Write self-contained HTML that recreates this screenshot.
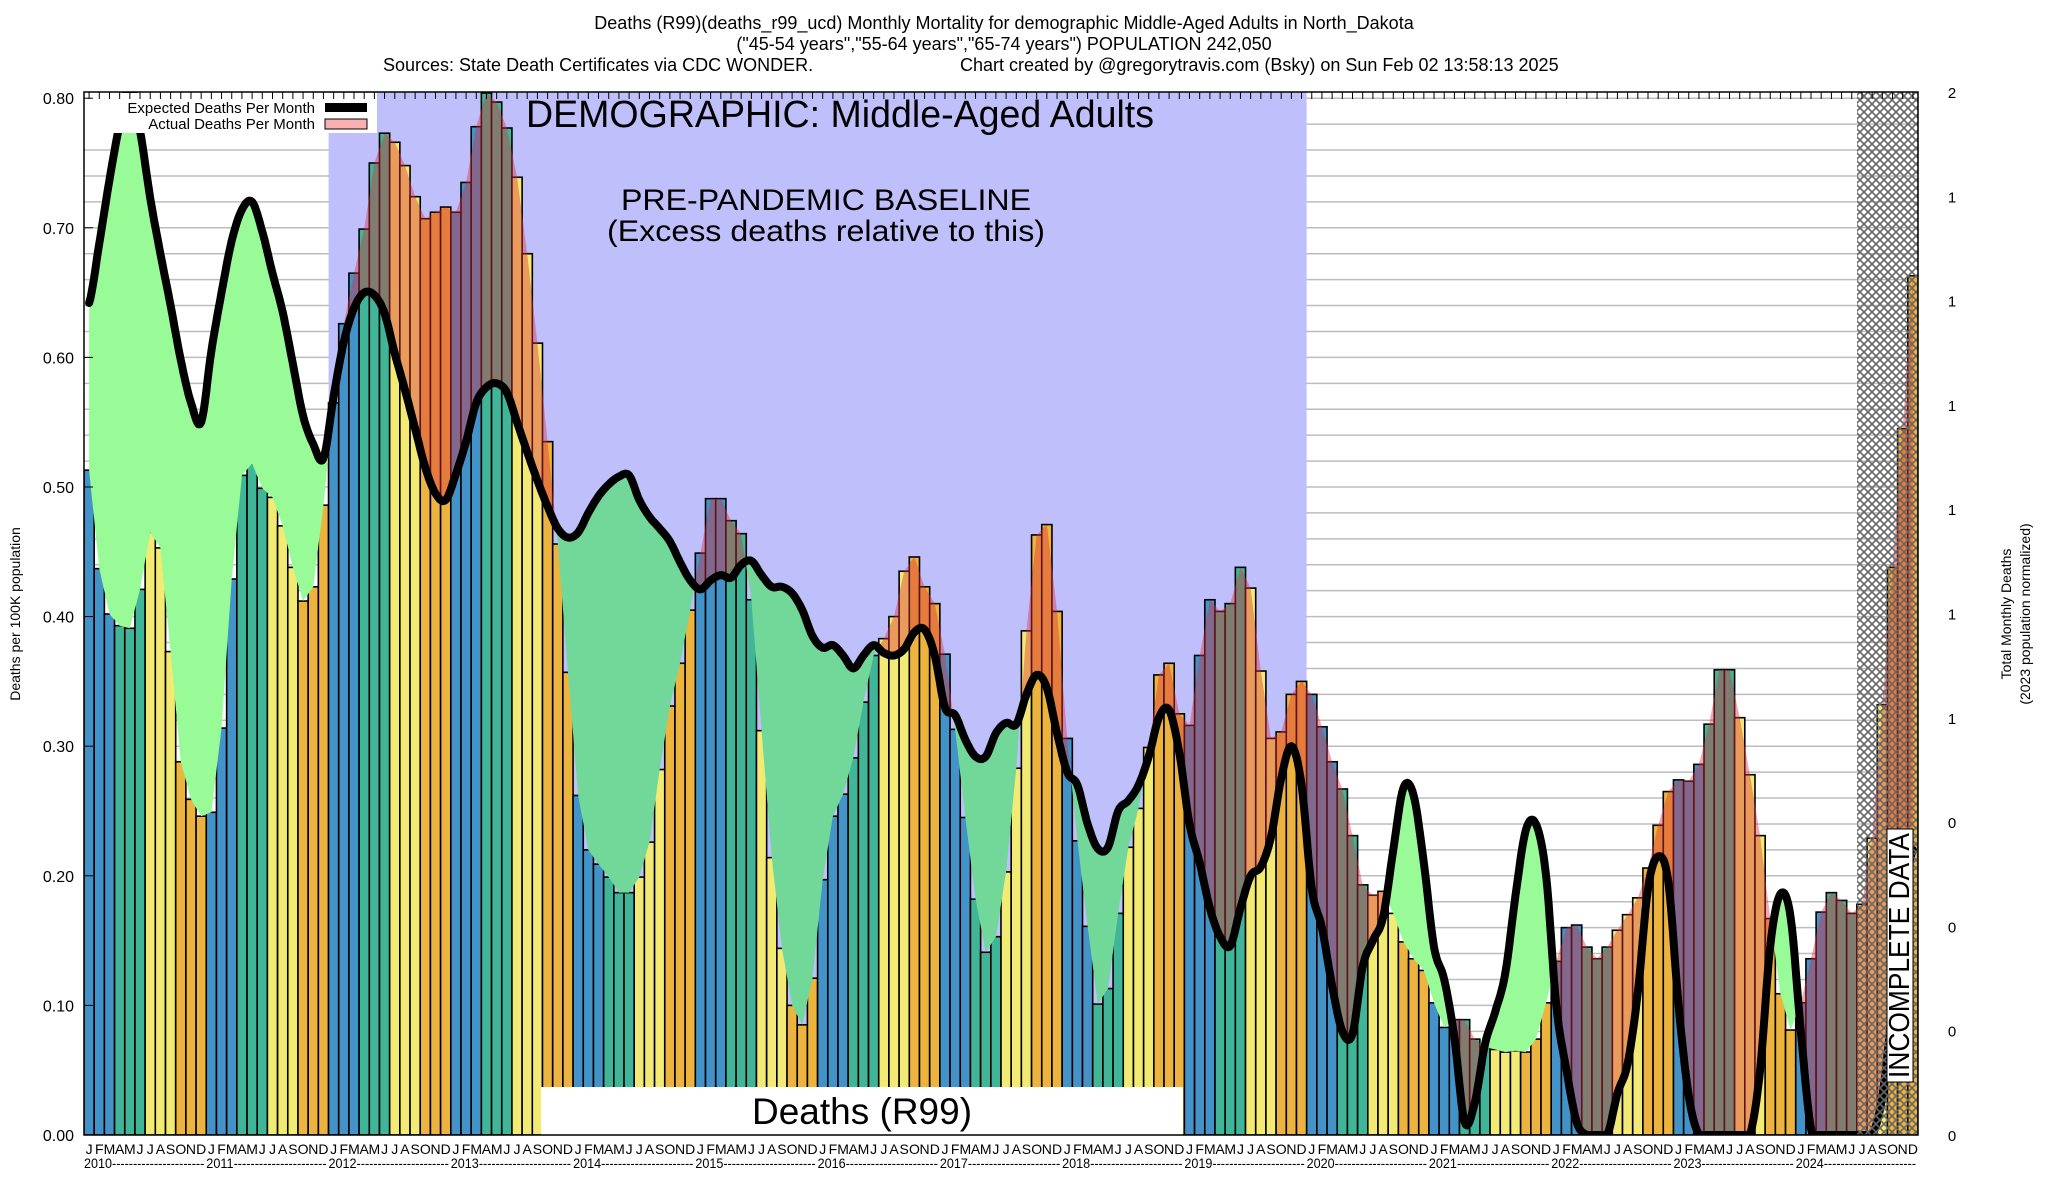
<!DOCTYPE html>
<html><head><meta charset="utf-8"><title>Deaths (R99) Monthly Mortality - North Dakota</title>
<style>
html,body{margin:0;padding:0;background:#fff;}
svg{display:block;font-family:"Liberation Sans",sans-serif;}
</style></head>
<body>
<svg id="chart" width="2048" height="1200" viewBox="0 0 2048 1200" xmlns="http://www.w3.org/2000/svg">
<defs>
<clipPath id="plotClip"><rect x="84" y="92" width="1834" height="1043"/></clipPath>
<clipPath id="baseClip"><rect x="328.6" y="92" width="978" height="1043"/></clipPath>
<clipPath id="outClip"><path d="M84 92 H328.6 V1135 H84 Z M1306.6 92 H1918 V1135 H1306.6 Z"/></clipPath>
<pattern id="hatch" width="8" height="8" patternUnits="userSpaceOnUse">
<path d="M0 0 L8 8 M8 0 L0 8" stroke="#666" stroke-width="1.6" fill="none"/>
</pattern>
</defs>
<rect x="0" y="0" width="2048" height="1200" fill="#fff"/>
<g font-size="18" fill="#000">
<text x="1004" y="29" text-anchor="middle">Deaths (R99)(deaths_r99_ucd) Monthly Mortality for demographic Middle-Aged Adults in North_Dakota</text>
<text x="1004" y="50" text-anchor="middle">("45-54 years","55-64 years","65-74 years") POPULATION 242,050</text>
<text x="383" y="71">Sources: State Death Certificates via CDC WONDER.</text>
<text x="960" y="71">Chart created by @gregorytravis.com (Bsky) on Sun Feb 02 13:58:13 2025</text>
</g>
<g id="gridG"></g>
<rect x="328.6" y="92" width="978" height="1043" fill="#bfbffb"/>
<g id="barsG" clip-path="url(#plotClip)"></g>
<g id="fillG" clip-path="url(#plotClip)"></g>
<g id="lineG" clip-path="url(#plotClip)"></g>
<rect x="541" y="1087" width="642" height="48" fill="#fff"/>
<text x="862" y="1124" text-anchor="middle" font-size="37">Deaths (R99)</text>
<text x="840" y="127" text-anchor="middle" font-size="38" textLength="628" lengthAdjust="spacingAndGlyphs">DEMOGRAPHIC: Middle-Aged Adults</text>
<text x="826" y="210" text-anchor="middle" font-size="30" textLength="410" lengthAdjust="spacingAndGlyphs">PRE-PANDEMIC BASELINE</text>
<text x="826" y="241" text-anchor="middle" font-size="30" textLength="438" lengthAdjust="spacingAndGlyphs">(Excess deaths relative to this)</text>
<rect x="1857" y="92" width="61" height="1043" fill="url(#hatch)"/>
<rect x="1887" y="829" width="26" height="253" fill="#fff" stroke="#000" stroke-width="1"/>
<text transform="translate(1909,1078) rotate(-90)" font-size="29" textLength="245" lengthAdjust="spacingAndGlyphs">INCOMPLETE DATA</text>
<g>
<rect x="84" y="93" width="293" height="40" fill="#fff"/>
<text x="315" y="113" text-anchor="end" font-size="15">Expected Deaths Per Month</text>
<rect x="325" y="103" width="42" height="9" fill="#000"/>
<text x="315" y="129" text-anchor="end" font-size="15">Actual Deaths Per Month</text>
<rect x="325" y="119" width="42" height="10" fill="#f8b0b0" stroke="#000" stroke-width="1"/>
</g>
<rect x="84" y="92" width="1834" height="1043" fill="none" stroke="#000" stroke-width="1.5"/>
<g id="axesG"></g>
<text transform="translate(20,614) rotate(-90)" text-anchor="middle" font-size="14">Deaths per 100K population</text>
<text transform="translate(2011,614) rotate(-90)" text-anchor="middle" font-size="14">Total Monthly Deaths</text>
<text transform="translate(2030,614) rotate(-90)" text-anchor="middle" font-size="14">(2023 population normalized)</text>
</svg>
<script>
const years = [2010,2011,2012,2013,2014,2015,2016,2017,2018,2019,2020,2021,2022,2023,2024];
const monthLetters = ["J","F","M","A","M","J","J","A","S","O","N","D"];
const yTickLabels = ["0.00","0.10","0.20","0.30","0.40","0.50","0.60","0.70","0.80"];
const rightTickLabels = ["0","0","0","0","1","1","1","1","1","1","2"];
const actualDeaths = [
0.513,0.437,0.402,0.393,0.391,0.421,0.465,0.453,0.373,0.288,0.259,0.246,
0.249,0.314,0.429,0.509,0.518,0.499,0.492,0.470,0.438,0.412,0.423,0.486,
0.565,0.626,0.665,0.699,0.750,0.773,0.766,0.748,0.724,0.707,0.712,0.716,
0.712,0.735,0.778,0.804,0.797,0.777,0.739,0.680,0.611,0.535,0.456,0.357,
0.262,0.220,0.209,0.199,0.187,0.187,0.199,0.226,0.282,0.331,0.364,0.405,
0.449,0.491,0.491,0.474,0.464,0.413,0.312,0.214,0.144,0.100,0.085,0.121,
0.197,0.246,0.263,0.291,0.334,0.370,0.383,0.400,0.435,0.446,0.423,0.410,
0.371,0.313,0.245,0.182,0.141,0.153,0.203,0.283,0.389,0.463,0.471,0.404,
0.306,0.227,0.161,0.101,0.113,0.171,0.222,0.252,0.299,0.355,0.364,0.325,
0.316,0.370,0.413,0.404,0.410,0.438,0.422,0.358,0.306,0.311,0.340,0.350,
0.340,0.315,0.288,0.267,0.231,0.193,0.185,0.188,0.171,0.149,0.136,0.127,
0.102,0.083,0.089,0.089,0.074,0.068,0.066,0.064,0.065,0.064,0.074,0.102,
0.134,0.160,0.162,0.145,0.136,0.145,0.158,0.170,0.183,0.206,0.239,0.265,
0.274,0.273,0.286,0.317,0.359,0.359,0.322,0.278,0.231,0.167,0.109,0.081,
0.102,0.136,0.172,0.187,0.181,0.171,0.178,0.229,0.332,0.438,0.545,0.663];
const expectedDeaths = [
0.642,0.688,0.737,0.780,0.810,0.775,0.723,0.680,0.640,0.598,0.565,0.550,
0.605,0.650,0.690,0.714,0.720,0.697,0.665,0.635,0.595,0.555,0.533,0.522,
0.570,0.612,0.638,0.650,0.648,0.634,0.603,0.575,0.545,0.515,0.495,0.490,
0.510,0.535,0.565,0.577,0.580,0.573,0.550,0.527,0.505,0.485,0.468,0.461,
0.465,0.480,0.493,0.502,0.508,0.509,0.490,0.477,0.468,0.458,0.442,0.428,
0.421,0.428,0.432,0.430,0.440,0.443,0.432,0.423,0.423,0.418,0.405,0.385,
0.376,0.378,0.370,0.360,0.370,0.378,0.372,0.370,0.375,0.388,0.390,0.370,
0.330,0.324,0.305,0.292,0.292,0.310,0.318,0.317,0.340,0.355,0.345,0.310,
0.280,0.270,0.240,0.221,0.222,0.250,0.258,0.270,0.292,0.322,0.328,0.295,
0.240,0.210,0.175,0.153,0.146,0.175,0.200,0.207,0.230,0.275,0.300,0.270,
0.190,0.160,0.115,0.080,0.078,0.130,0.150,0.168,0.220,0.268,0.262,0.210,
0.145,0.120,0.075,0.010,0.025,0.070,0.095,0.125,0.185,0.235,0.240,0.200,
0.100,0.050,0.010,0.000,0.000,0.000,0.032,0.055,0.110,0.190,0.215,0.195,
0.100,0.030,0.000,0.000,0.000,0.000,0.000,0.000,0.050,0.146,0.186,0.168,
0.080,0.005,0.000,0.000,0.000,0.000,0.000,0.000,0.030,0.100,0.180,0.220];

const NS = "http://www.w3.org/2000/svg";
const X0 = 84, X1 = 1918, Y0 = 1135, PX_PER_UNIT = 1296;
const N = actualDeaths.length;
const BW = (X1 - X0) / N;
function xLeft(i){ return X0 + BW * i; }
function xCenter(i){ return X0 + BW * (i + 0.5); }
function yScale(v){ return Y0 - v * PX_PER_UNIT; }
function mk(tag, attrs){ const e = document.createElementNS(NS, tag); for (const k in attrs) e.setAttribute(k, attrs[k]); return e; }
const colors = ["#4393c8","#41b597","#f2ea73","#ecb33e"];

// grid
const gridG = document.getElementById("gridG");
for (let k = 1; k <= 40; k++) {
  const y = yScale(k * 0.02);
  const l = mk("line", {x1: X0, x2: X1, y1: y, y2: y, stroke: "#bdbdbd", "stroke-width": 1.5});
  
  
  gridG.appendChild(l);
}

// bars
const barsG = document.getElementById("barsG");
for (let i = 0; i < N; i++) {
  const v = actualDeaths[i];
  const r = mk("rect", {x: xLeft(i), y: yScale(v), width: BW, height: v * PX_PER_UNIT,
    fill: colors[Math.floor((i % 12) / 3)], stroke: "#000", "stroke-width": 1.6});
  
  
  barsG.appendChild(r);
}

// sampling: expected smooth (Catmull-Rom), actual linear
const S = 8;
const pts = [];
for (let i = 0; i < N - 1; i++) {
  const p0 = expectedDeaths[Math.max(i - 1, 0)], p1 = expectedDeaths[i], p2 = expectedDeaths[i + 1], p3 = expectedDeaths[Math.min(i + 2, N - 1)];
  for (let s = 0; s < S; s++) {
    const t = s / S;
    const t2 = t * t, t3 = t2 * t;
    let e = 0.5 * ((2 * p1) + (-p0 + p2) * t + (2 * p0 - 5 * p1 + 4 * p2 - p3) * t2 + (-p0 + 3 * p1 - 3 * p2 + p3) * t3);
    e = Math.max(0, e);
    const a = actualDeaths[i] + (actualDeaths[i + 1] - actualDeaths[i]) * t;
    pts.push({x: xCenter(i + t), e: e, a: a});
  }
}
pts.push({x: xCenter(N - 1), e: expectedDeaths[N - 1], a: actualDeaths[N - 1]});

function bandPath(upperFn, lowerFn){
  let d = "M" + pts.map(p => p.x.toFixed(1) + "," + yScale(upperFn(p)).toFixed(1)).join(" L");
  for (let k = pts.length - 1; k >= 0; k--) d += " L" + pts[k].x.toFixed(1) + "," + yScale(lowerFn(pts[k])).toFixed(1);
  return d + " Z";
}
const fillG = document.getElementById("fillG");
const greenD = bandPath(p => Math.max(p.e, p.a), p => p.a);
const g1 = mk("path", {d: greenD, fill: "#98fb98", "clip-path": "url(#outClip)"});


fillG.appendChild(g1);
const g2 = mk("path", {d: greenD, fill: "#72d89a", "clip-path": "url(#baseClip)"});


fillG.appendChild(g2);
const pink = mk("path", {d: bandPath(p => Math.max(p.e, p.a), p => p.e), fill: "rgba(220,45,60,0.42)"});


fillG.appendChild(pink);

// expected line
const lineG = document.getElementById("lineG");
const ld = "M" + pts.map(p => p.x.toFixed(1) + "," + yScale(p.e).toFixed(1)).join(" L");
const line = mk("path", {d: ld, fill: "none", stroke: "#000", "stroke-width": 8, "stroke-linejoin": "round", "stroke-linecap": "round"});


lineG.appendChild(line);

// axes
const axesG = document.getElementById("axesG");
yTickLabels.forEach((lab, k) => {
  const y = yScale(k * 0.1);
  const t = mk("text", {x: 74, y: y + 6, "text-anchor": "end", "font-size": 16});
  t.textContent = lab;
  
  
  axesG.appendChild(t);
  const tk = mk("line", {x1: X0, x2: X0 + 9, y1: y, y2: y, stroke: "#000", "stroke-width": 1});
  
  
  axesG.appendChild(tk);
});
rightTickLabels.forEach((lab, k) => {
  const y = Y0 - k * (Y0 - 92) / 10;
  const t = mk("text", {x: 1952, y: y + 6, "text-anchor": "middle", "font-size": 15});
  t.textContent = lab;
  
  
  axesG.appendChild(t);
});
for (let i = 0; i < N; i++) {
  const tk = mk("line", {x1: xCenter(i), x2: xCenter(i), y1: 92, y2: 99, stroke: "#000", "stroke-width": 1});
  
  
  axesG.appendChild(tk);
  const t = mk("text", {x: xCenter(i), y: 1154, "text-anchor": "middle", "font-size": 14});
  t.textContent = monthLetters[i % 12];
  
  
  axesG.appendChild(t);
}
years.forEach((yr, k) => {
  const t = mk("text", {x: xLeft(k * 12), y: 1168, "font-size": 14, textLength: (BW * 12 - 2).toFixed(1), lengthAdjust: "spacingAndGlyphs"});
  t.textContent = yr + "----------------------";
  
  
  axesG.appendChild(t);
});
</script>
</body></html>
